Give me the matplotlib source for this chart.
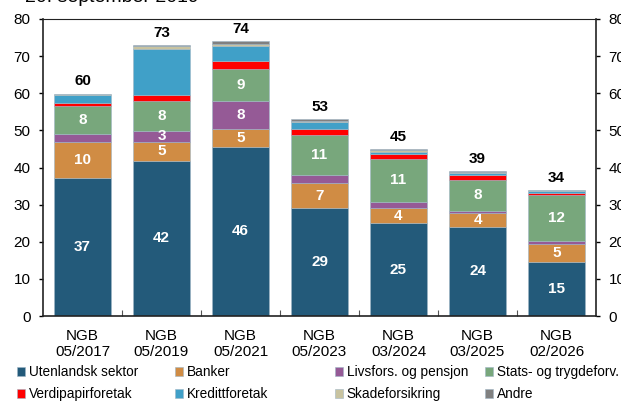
import matplotlib
matplotlib.use("Agg")
import matplotlib.pyplot as plt
import numpy as np

plt.rcParams['font.family'] = ['Liberation Sans', 'DejaVu Sans']

categories = ["NGB\n05/2017", "NGB\n05/2019", "NGB\n05/2021", "NGB\n05/2023",
              "NGB\n03/2024", "NGB\n03/2025", "NGB\n02/2026"]
series_names = ["Utenlandsk sektor", "Banker", "Livsfors. og pensjon", "Stats- og trygdeforv.",
                "Verdipapirforetak", "Kredittforetak", "Skadeforsikring", "Andre"]
utenlandsk = [37.3, 41.8, 45.6, 29.0, 25.0, 24.0, 14.6]
banker     = [9.7, 5.2, 4.8, 6.8, 4.1, 3.7, 4.8]
livsfors   = [1.9, 2.9, 7.6, 2.2, 1.7, 0.7, 0.7]
stats      = [7.8, 8.0, 8.6, 10.8, 11.4, 8.3, 12.4]
verdipapir = [0.6, 1.6, 2.1, 1.5, 1.5, 1.4, 0.6]
kreditt    = [2.1, 12.5, 3.9, 2.0, 0.5, 0.4, 0.5]
skade      = [0.4, 0.6, 0.7, 0.3, 0.5, 0.4, 0.3]
andre      = [0.1, 0.4, 0.7, 0.4, 0.2, 0.1, 0.1]
colors = ["#235A7A", "#D08C44", "#955A96", "#78A77C", "#FF0000", "#40A0C8", "#C8C3A0", "#808080"]
yticks = [0, 10, 20, 30, 40, 50, 60, 70, 80]
title = "20. september 2019"

data = [utenlandsk, banker, livsfors, stats, verdipapir, kreditt, skade, andre]
labeled = [True, True, True, True, False, False, False, False]

W, H = 621, 403
fig = plt.figure(figsize=(W / 100, H / 100), dpi=100)
ax = fig.add_axes([43 / W, 1 - 316 / H, (596 - 43) / W, (316 - 19) / H])

x = np.arange(len(categories))
bottom = np.zeros(len(categories))
handles = []
for vals, col, name, lab in zip(data, colors, series_names, labeled):
    v = np.array(vals)
    b = ax.bar(x, v, 0.72, bottom=bottom, color=col, edgecolor="#9FB6C6", linewidth=0.4, label=name)
    handles.append(b)
    if lab:
        for xi, vi, bi in zip(x, v, bottom):
            if round(vi) >= 3:
                ax.text(xi, bi + vi / 2, f"{round(vi)}", ha="center", va="center",
                        color="white", fontsize=11, fontweight="bold")
    bottom += v

for xi, t in zip(x, bottom):
    ax.text(xi, t + 1.4, f"{round(t)}", ha="center", va="bottom", color="black",
            fontsize=11, fontweight="bold")

ax.set_xlim(-0.5, len(categories) - 0.5)
ax.set_ylim(0, 80)
ax.set_yticks(yticks)
ax.tick_params(axis="y", labelsize=11, length=3, width=1, direction="out", pad=6,
               right=True, labelright=True)
ax.set_xticks(x)
ax.set_xticklabels(categories, fontsize=11, linespacing=1.2)
ax.tick_params(axis="x", length=0, pad=9)
ax.set_xticks(np.arange(0.5, len(categories) - 1, 1), minor=True)
ax.tick_params(axis="x", which="minor", length=4, direction="in", width=0.8, color="#555555")
for s in ax.spines.values():
    s.set_linewidth(1.2)
    s.set_color("#222222")
ax.spines["top"].set_linewidth(0.8)

# legend: 4 columns, row-wise order, fixed column positions
col_x = [17, 175, 335, 485]
for c in range(4):
    idx = [c, c + 4]
    fig.legend(handles=[handles[i] for i in idx], labels=[series_names[i] for i in idx],
               loc="upper left", bbox_to_anchor=(col_x[c] / W, 1 - 365 / H),
               frameon=False, fontsize=9.8, handlelength=0.6, handleheight=0.6,
               handletextpad=0.25, borderaxespad=0, borderpad=0, labelspacing=0.62)

fig.text(25 / W, 1 - 6 / H, title, fontsize=14, ha="left", va="bottom")

fig.savefig("out.png", dpi=100)
